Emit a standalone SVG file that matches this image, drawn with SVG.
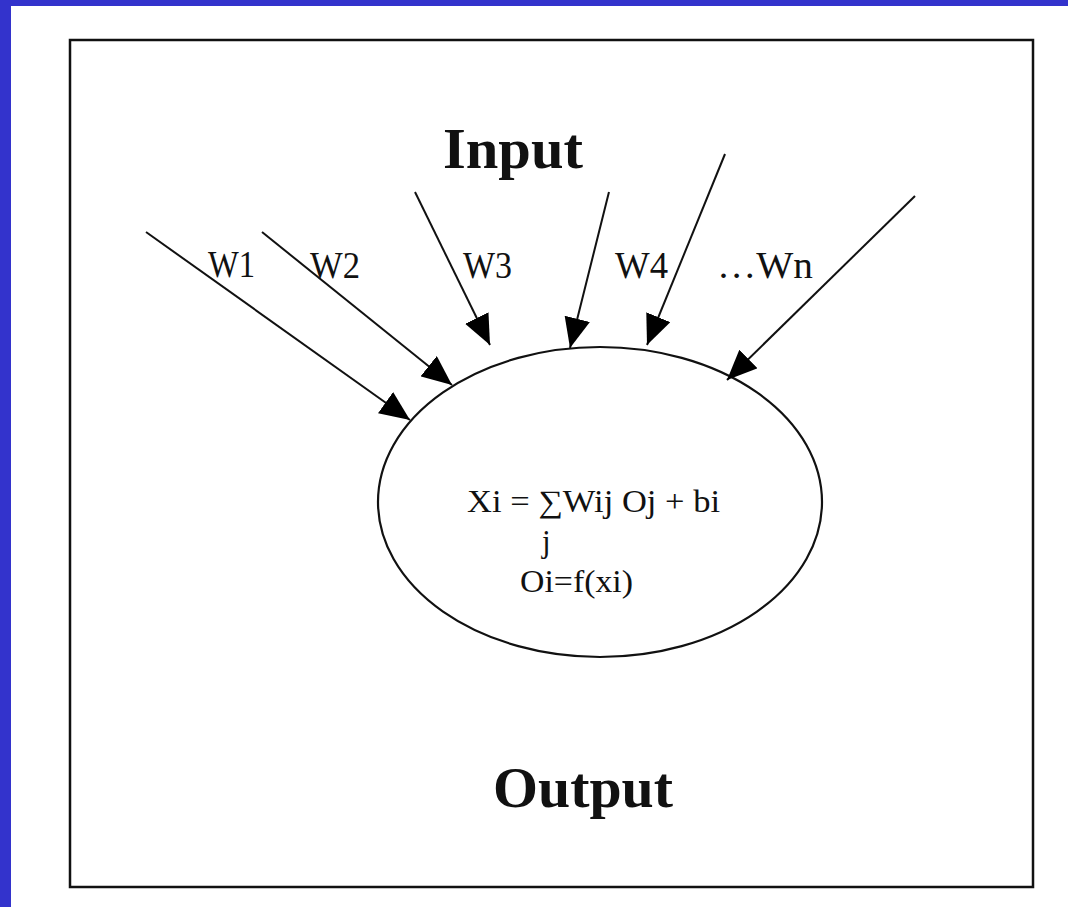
<svg xmlns="http://www.w3.org/2000/svg" width="1068" height="907" viewBox="0 0 1068 907">
<style>
.lbl{font-family:"Liberation Serif","Times New Roman",serif;fill:#111}
.w{font-size:38px}
.big{font-size:58px;font-weight:bold}
.f{font-size:31px}
.conn line{stroke:#111;stroke-width:2;marker-end:url(#ah)}
</style>
<defs>
<marker id="ah" viewBox="0 0 30 26" refX="30" refY="13" markerWidth="30" markerHeight="26" markerUnits="userSpaceOnUse" orient="auto">
<path d="M0,0 L30,13 L0,26 z" fill="#000"/>
</marker>
</defs>
<rect x="0" y="0" width="1068" height="907" fill="#fff"/>
<rect x="0" y="0" width="1068" height="6" fill="#3333cc"/>
<rect x="0" y="0" width="11" height="907" fill="#3333cc"/>
<g id="frame"><rect x="70" y="40" width="963" height="847" fill="none" stroke="#111" stroke-width="2.5"/></g>
<g id="neuron">
<ellipse cx="600" cy="502" rx="222" ry="155" fill="none" stroke="#111" stroke-width="2.2"/>
<text class="lbl f" x="467" y="512" textLength="253" lengthAdjust="spacingAndGlyphs">Xi = ∑Wij Oj + bi</text>
<text class="lbl f" x="542" y="552">j</text>
<text class="lbl f" x="520" y="592" textLength="113" lengthAdjust="spacingAndGlyphs">Oi=f(xi)</text>
</g>
<g id="input-label"><text class="lbl big" x="443" y="168" textLength="140" lengthAdjust="spacingAndGlyphs">Input</text></g>
<g id="output-label"><text class="lbl big" x="493" y="807" textLength="180" lengthAdjust="spacingAndGlyphs">Output</text></g>
<g id="weights">
<text class="lbl w" x="208" y="277" textLength="47" lengthAdjust="spacingAndGlyphs">W1</text>
<text class="lbl w" x="310" y="278" textLength="50" lengthAdjust="spacingAndGlyphs">W2</text>
<text class="lbl w" x="463" y="278" textLength="49" lengthAdjust="spacingAndGlyphs">W3</text>
<text class="lbl w" x="615" y="278" textLength="53" lengthAdjust="spacingAndGlyphs">W4</text>
<text class="lbl w" x="717" y="278" textLength="96" lengthAdjust="spacingAndGlyphs">…Wn</text>
</g>
<g id="connectors" class="conn">
<line x1="146" y1="232" x2="410" y2="420"/>
<line x1="262" y1="232" x2="452" y2="385"/>
<line x1="415" y1="192" x2="490" y2="345"/>
<line x1="609" y1="192" x2="570" y2="348"/>
<line x1="725" y1="154" x2="647" y2="345"/>
<line x1="915" y1="196" x2="727" y2="380"/>
</g>
</svg>
